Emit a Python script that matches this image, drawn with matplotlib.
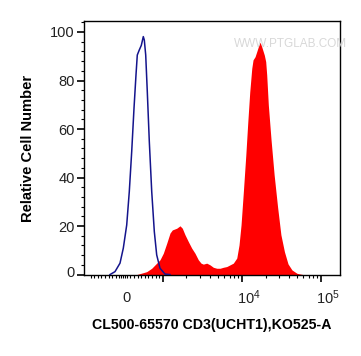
import matplotlib
matplotlib.use("Agg")
import matplotlib.pyplot as plt
import matplotlib.transforms as mtransforms
from matplotlib.ticker import FixedLocator, MultipleLocator, NullFormatter

plt.rcParams['font.family'] = ['Liberation Sans', 'DejaVu Sans']

# ---- data (fluorescence values, relative cell number) ----
control_x = [-464, -325, -186, -94, 0, 72, 139, 203, 258, 294, 350, 406, 461, 489,
             528, 572, 628, 695, 767, 833, 925, 1069, 1237]
control_y = [0, 1.2, 4.7, 10.9, 20.4, 34.2, 50.7, 68.6, 82.3, 90.5, 92.6, 94.5, 98.1, 96.7,
             90.5, 75.4, 54.8, 34.2, 17.7, 8.1, 2.6, 0.2, 0]

sample_x = [278, 417, 556, 695, 833, 925, 1018, 1124, 1237, 1323, 1504, 1656, 1770, 1915,
            2109, 2327, 2560, 2820, 3055, 3266, 3604, 3970, 4370, 4830, 5320, 5850, 6460,
            7110, 7820, 8650, 9240, 9800, 10480, 11260, 11930, 12630, 13390, 13900, 14740,
            15480, 16200, 17030, 17900, 19300, 20100, 20700, 21700, 23500, 25700, 28400,
            31300, 34700, 38500, 43200, 50100, 59700]
sample_y = [0, 0.6, 1.2, 2.6, 4.7, 6.1, 8.8, 12.9, 17.1, 18.4, 19.1, 20.1, 19.1, 16.4,
            13.6, 10.9, 8.8, 6.1, 4.7, 4.3, 4.7, 4.0, 3.0, 2.6, 2.6, 3.0, 3.3,
            4.0, 4.7, 6.8, 12.2, 20.5, 34.1, 49.3, 62.9, 75.3, 85.0, 88.5, 89.8,
            91.9, 93.9, 95.8, 93.9, 90.5, 87.8, 82.3, 69.9, 55.5, 41.1, 27.9,
            16.4, 9.4, 4.4, 1.9, 0.5, 0]

x_major = [1000, 10000, 100000]
x_labels = [(0, "0"), (10000, r"$\mathregular{10^4}$"), (100000, r"$\mathregular{10^5}$")]
x_minor = ([-1000, -900, -800, -700, -600, -500, -400, -300, -200, -150, -100, -50, 0,
            100, 200, 300, 400, 500, 600, 700, 800, 900]
           + [2000, 3000, 4000, 5000, 6000, 7000, 8000, 9000]
           + [20000, 30000, 40000, 50000, 60000, 70000, 80000, 90000])
y_major = [0, 20, 40, 60, 80, 100]

xlabel = "CL500-65570 CD3(UCHT1),KO525-A"
ylabel = "Relative Cell Number"
watermark = "WWW.PTGLAB.COM"

fig = plt.figure(figsize=(3.61, 3.56), dpi=100)
ax = fig.add_axes([0.2335, 0.2267, 0.7083, 0.7152])

ax.set_xscale('symlog', linthresh=1000, linscale=0.41)
ax.set_xlim(-1205, 175000)
ax.set_ylim(-0.3, 104.66)

ax.fill_between(sample_x, sample_y, 0, color='#ff0000', lw=0, zorder=2)
ax.plot(control_x, control_y, color='#14148c', lw=1.1, zorder=3)

ax.xaxis.set_major_locator(FixedLocator(x_major))
ax.xaxis.set_minor_locator(FixedLocator(x_minor))
ax.xaxis.set_major_formatter(NullFormatter())
ax.xaxis.set_minor_formatter(NullFormatter())
ax.yaxis.set_major_locator(FixedLocator(y_major))
ax.yaxis.set_minor_locator(MultipleLocator(4))

ax.tick_params(axis='both', which='major', direction='out', length=5, width=1.2, colors='black',
               labelcolor='#222222', labelsize=10.5)
ax.tick_params(axis='both', which='minor', direction='out', length=2.5, width=0.8, colors='black')
ax.tick_params(axis='y', which='major', pad=2)

# the "0" label on the y axis sits slightly above its tick in the reference
zero_tick = ax.yaxis.get_major_ticks()[0]
zero_tick.label1.set_transform(zero_tick.label1.get_transform()
                               + mtransforms.ScaledTranslation(0, 3.5 / 100, fig.dpi_scale_trans))

trans = mtransforms.blended_transform_factory(ax.transData, ax.transAxes)
for xv, txt in x_labels:
    off = mtransforms.ScaledTranslation(0 if xv == 0 else 7 / 100, 0, fig.dpi_scale_trans)
    ax.text(xv, -0.088, txt, transform=trans + off, ha='center', va='center',
            fontsize=10.5, color='#222222')

for s in ax.spines.values():
    s.set_linewidth(1.0)
    s.set_color('black')

ax.set_xlabel(xlabel, fontsize=10.2, fontweight='bold', labelpad=22)
ax.set_ylabel(ylabel, fontsize=10.6, fontweight='bold', labelpad=11)

fig.text(0.806, 0.876, watermark, fontsize=8.5, color='#d8d8d8', ha='center', va='center')

fig.savefig("out.png", dpi=100)
